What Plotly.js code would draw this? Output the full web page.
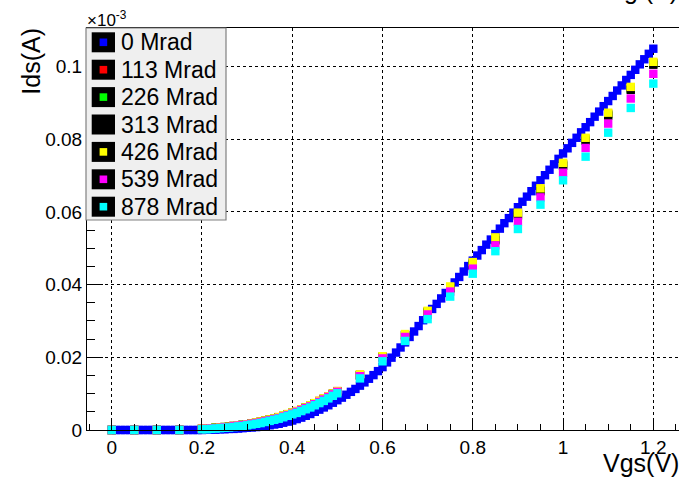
<!DOCTYPE html>
<html>
<head>
<meta charset="utf-8">
<script src="https://cdn.plot.ly/plotly-3.0.1.min.js"></script>
<style>
  html, body { margin: 0; padding: 0; background: #ffffff; overflow: hidden; }
  #chart { width: 679px; height: 478px; }
</style>
</head>
<body>
<div id="chart"></div>
<script>
// Transfer characteristic Ids(Vgs) at several total ionising doses.
// Currents are in units of 1e-3 A (the axis carries a x10^-3 multiplier).

// 0 Mrad: fine sweep, 10 mV steps
const vgsFine = [
  0.00,0.01,0.02,0.03,0.04,0.05,0.06,0.07,0.08,0.09,
  0.10,0.11,0.12,0.13,0.14,0.15,0.16,0.17,0.18,0.19,
  0.20,0.21,0.22,0.23,0.24,0.25,0.26,0.27,0.28,0.29,
  0.30,0.31,0.32,0.33,0.34,0.35,0.36,0.37,0.38,0.39,
  0.40,0.41,0.42,0.43,0.44,0.45,0.46,0.47,0.48,0.49,
  0.50,0.51,0.52,0.53,0.54,0.55,0.56,0.57,0.58,0.59,
  0.60,0.61,0.62,0.63,0.64,0.65,0.66,0.67,0.68,0.69,
  0.70,0.71,0.72,0.73,0.74,0.75,0.76,0.77,0.78,0.79,
  0.80,0.81,0.82,0.83,0.84,0.85,0.86,0.87,0.88,0.89,
  0.90,0.91,0.92,0.93,0.94,0.95,0.96,0.97,0.98,0.99,
  1.00,1.01,1.02,1.03,1.04,1.05,1.06,1.07,1.08,1.09,
  1.10,1.11,1.12,1.13,1.14,1.15,1.16,1.17,1.18,1.19,
  1.20
];
const ids0 = [
  0,0,0,0,0,0,0,0,0,0,
  0,0,0,0,0,0,0,0,0,0,
  0,0.0001,0.0001,0.0001,0.0002,0.0002,0.0003,0.0003,0.0004,0.0005,
  0.0006,0.0007,0.0008,0.0010,0.0011,0.0013,0.0015,0.0017,0.0020,0.0023,
  0.0026,0.0030,0.0034,0.0039,0.0044,0.0050,0.0056,0.0062,0.0068,0.0075,
  0.0082,0.0089,0.0097,0.0105,0.0113,0.0122,0.0131,0.0141,0.0151,0.0162,
  0.0173,0.0186,0.0199,0.0213,0.0227,0.0241,0.0256,0.0271,0.0286,0.0302,
  0.0318,0.0333,0.0347,0.0362,0.0377,0.0392,0.0406,0.0421,0.0436,0.0451,
  0.0466,0.0480,0.0495,0.0510,0.0524,0.0539,0.0554,0.0569,0.0583,0.0598,
  0.0613,0.0628,0.0642,0.0657,0.0672,0.0687,0.0701,0.0716,0.0731,0.0746,
  0.0761,0.0775,0.0790,0.0804,0.0819,0.0833,0.0847,0.0862,0.0876,0.0891,
  0.0905,0.0919,0.0934,0.0948,0.0963,0.0977,0.0991,0.1006,0.1020,0.1035,
  0.1049
];

// Irradiated samples: 50 mV steps, 10 mV steps across the threshold region
const vgsIrr = [
  0.00,0.05,0.10,0.15,
  0.20,0.21,0.22,0.23,0.24,0.25,0.26,0.27,0.28,0.29,
  0.30,0.31,0.32,0.33,0.34,0.35,0.36,0.37,0.38,0.39,
  0.40,0.41,0.42,0.43,0.44,0.45,0.46,0.47,0.48,0.49,0.50,
  0.55,0.60,0.65,0.70,0.75,0.80,0.85,0.90,0.95,1.00,1.05,1.10,1.15,1.20
];
const ids113 = [
  0,0,0,0,
  0.0003,0.0004,0.0005,0.0006,0.0007,0.0008,0.0009,0.0011,0.0012,0.0014,
  0.0016,0.0018,0.0020,0.0023,0.0026,0.0029,0.0032,0.0035,0.0039,0.0043,
  0.0047,0.0052,0.0057,0.0062,0.0067,0.0073,0.0080,0.0086,0.0093,0.0100,0.0107,
  0.0152,0.0202,0.0262,0.0326,0.0393,0.0459,0.0527,0.0595,0.0662,0.0732,0.0801,0.0870,0.0941,0.1010
];
const ids226 = [
  0,0,0,0,
  0.0003,0.0004,0.0005,0.0006,0.0007,0.0008,0.0009,0.0010,0.0012,0.0014,
  0.0016,0.0018,0.0020,0.0022,0.0025,0.0028,0.0031,0.0035,0.0039,0.0043,
  0.0047,0.0051,0.0056,0.0061,0.0067,0.0073,0.0079,0.0086,0.0092,0.0099,0.0106,
  0.0151,0.0201,0.0261,0.0325,0.0391,0.0457,0.0525,0.0593,0.0660,0.0730,0.0799,0.0868,0.0939,0.1008
];
const ids313 = [
  0,0,0,0,
  0.0003,0.0004,0.0005,0.0006,0.0007,0.0008,0.0009,0.0011,0.0012,0.0014,
  0.0016,0.0018,0.0020,0.0022,0.0025,0.0028,0.0031,0.0035,0.0038,0.0042,
  0.0047,0.0051,0.0056,0.0061,0.0067,0.0073,0.0079,0.0085,0.0092,0.0099,0.0106,
  0.0150,0.0200,0.0260,0.0323,0.0389,0.0455,0.0522,0.0590,0.0657,0.0727,0.0796,0.0865,0.0936,0.1005
];
const ids426 = [
  0,0,0,0,
  0.0004,0.0004,0.0005,0.0006,0.0007,0.0008,0.0009,0.0011,0.0013,0.0014,
  0.0016,0.0018,0.0021,0.0023,0.0026,0.0029,0.0032,0.0036,0.0040,0.0044,
  0.0048,0.0052,0.0057,0.0062,0.0068,0.0074,0.0080,0.0087,0.0093,0.0100,0.0107,
  0.0153,0.0203,0.0264,0.0328,0.0395,0.0462,0.0530,0.0598,0.0665,0.0735,0.0804,0.0873,0.0944,0.1013
];
const ids539 = [
  0,0,0,0,
  0.0003,0.0003,0.0004,0.0005,0.0006,0.0007,0.0008,0.0010,0.0012,0.0013,
  0.0015,0.0017,0.0019,0.0021,0.0024,0.0027,0.0030,0.0033,0.0037,0.0041,
  0.0045,0.0050,0.0055,0.0060,0.0065,0.0071,0.0077,0.0084,0.0091,0.0098,0.0105,
  0.0148,0.0197,0.0256,0.0318,0.0381,0.0444,0.0508,0.0573,0.0640,0.0708,0.0776,0.0843,0.0912,0.0980
];
const ids878 = [
  0,0,0,0,
  0.0002,0.0002,0.0003,0.0004,0.0005,0.0006,0.0007,0.0008,0.0010,0.0011,
  0.0013,0.0015,0.0017,0.0019,0.0022,0.0025,0.0028,0.0031,0.0035,0.0039,
  0.0043,0.0047,0.0052,0.0057,0.0062,0.0068,0.0074,0.0080,0.0087,0.0094,0.0101,
  0.0142,0.0189,0.0245,0.0305,0.0367,0.0430,0.0492,0.0553,0.0620,0.0687,0.0752,0.0818,0.0886,0.0953
];

const doseLabels = ['0 Mrad','113 Mrad','226 Mrad','313 Mrad','426 Mrad','539 Mrad','878 Mrad'];
const doseColors = ['#0000ff','#ff0000','#00ff00','#000000','#ffff00','#ff00ff','#00ffff'];
const doseX = [vgsFine, vgsIrr, vgsIrr, vgsIrr, vgsIrr, vgsIrr, vgsIrr];
const doseY = [ids0, ids113, ids226, ids313, ids426, ids539, ids878];

const FONT = '"Liberation Sans", Arial, Helvetica, sans-serif';
const W = 679, H = 478, ML = 87, MR = 0, MT = 28, MB = 48;
const PW = W - ML - MR, PH = H - MT - MB;
// pixel position -> paper coordinates
const pxX = x => (x - ML) / PW;
const pxY = y => (H - MB - y) / PH;

const traces = doseLabels.map((name, i) => ({
  type: 'scatter',
  mode: 'markers',
  name: name,
  x: doseX[i],
  y: doseY[i],
  cliponaxis: false,
  showlegend: false,
  hoverinfo: 'skip',
  marker: { symbol: 'square', size: 8.4, color: doseColors[i], line: { width: 0 } }
}));

// Hand-built legend box: black swatch with a coloured marker inside
const shapes = [];
const annotations = [];
shapes.push({
  type: 'rect', xref: 'paper', yref: 'paper', layer: 'above',
  x0: pxX(86), x1: pxX(226), y0: pxY(220), y1: pxY(28),
  fillcolor: '#efefef', line: { color: '#808080', width: 1.2 }
});
doseLabels.forEach((label, i) => {
  const yc = 42.3 + i * 27.4;
  shapes.push({
    type: 'rect', xref: 'paper', yref: 'paper', layer: 'above',
    x0: pxX(91.7), x1: pxX(115), y0: pxY(yc + 10), y1: pxY(yc - 10),
    fillcolor: '#000000', line: { width: 0 }
  });
  shapes.push({
    type: 'rect', xref: 'paper', yref: 'paper', layer: 'above',
    x0: pxX(99.6), x1: pxX(107.2), y0: pxY(yc + 3.8), y1: pxY(yc - 3.8),
    fillcolor: doseColors[i], line: { width: 0 }
  });
  annotations.push({
    xref: 'paper', yref: 'paper', x: pxX(118.5), y: pxY(yc),
    xanchor: 'left', yanchor: 'middle', showarrow: false,
    text: label, font: { family: FONT, size: 23, color: '#000000' }
  });
});

// Axis titles, exponent and the (clipped) plot title
annotations.push({
  xref: 'paper', yref: 'paper', x: pxX(31), y: pxY(61.7),
  xanchor: 'center', yanchor: 'middle', showarrow: false, textangle: -90,
  text: 'Ids(A)', font: { family: FONT, size: 25, color: '#000000' }
});
annotations.push({
  xref: 'paper', yref: 'paper', x: pxX(681), y: pxY(463),
  xanchor: 'right', yanchor: 'middle', showarrow: false,
  text: 'Vgs(V)', font: { family: FONT, size: 25, color: '#000000' }
});
annotations.push({
  xref: 'paper', yref: 'paper', x: pxX(84.5), y: pxY(19),
  xanchor: 'left', yanchor: 'middle', showarrow: false,
  text: '\u00d710<sup>-3</sup>', font: { family: FONT, size: 17, color: '#000000' }
});
annotations.push({
  xref: 'paper', yref: 'paper', x: pxX(680), y: pxY(-10),
  xanchor: 'right', yanchor: 'middle', showarrow: false,
  text: 'Ids vs Vg (V)', font: { family: FONT, size: 25, color: '#000000' }
});

const layout = {
  width: W, height: H,
  margin: { l: ML, r: MR, t: MT, b: MB, pad: 0 },
  paper_bgcolor: '#ffffff', plot_bgcolor: '#ffffff',
  font: { family: FONT, color: '#000000' },
  showlegend: false,
  xaxis: {
    range: [-0.0547, 1.2569],
    showline: true, linecolor: '#000000', linewidth: 1, mirror: true,
    ticks: 'inside', ticklen: 12, tickwidth: 1, tickcolor: '#000000',
    tick0: 0, dtick: 0.2,
    showgrid: true, gridcolor: '#000000', gridwidth: 1, griddash: '3px,3px',
    zeroline: false,
    tickfont: { family: FONT, size: 19, color: '#000000' },
    minor: { tick0: 0, dtick: 0.05, ticks: 'inside', ticklen: 6, tickcolor: '#000000', showgrid: false }
  },
  yaxis: {
    range: [0, 0.1106],
    showline: true, linecolor: '#000000', linewidth: 1, mirror: false,
    ticks: 'inside', ticklen: 16, tickwidth: 1, tickcolor: '#000000',
    tick0: 0, dtick: 0.02,
    showgrid: true, gridcolor: '#000000', gridwidth: 1, griddash: '3px,3px',
    zeroline: false,
    tickfont: { family: FONT, size: 19, color: '#000000' },
    minor: { tick0: 0, dtick: 0.005, ticks: 'inside', ticklen: 8, tickcolor: '#000000', showgrid: false }
  },
  shapes: shapes,
  annotations: annotations
};

Plotly.newPlot('chart', traces, layout, { displayModeBar: false, staticPlot: true });
</script>
</body>
</html>
